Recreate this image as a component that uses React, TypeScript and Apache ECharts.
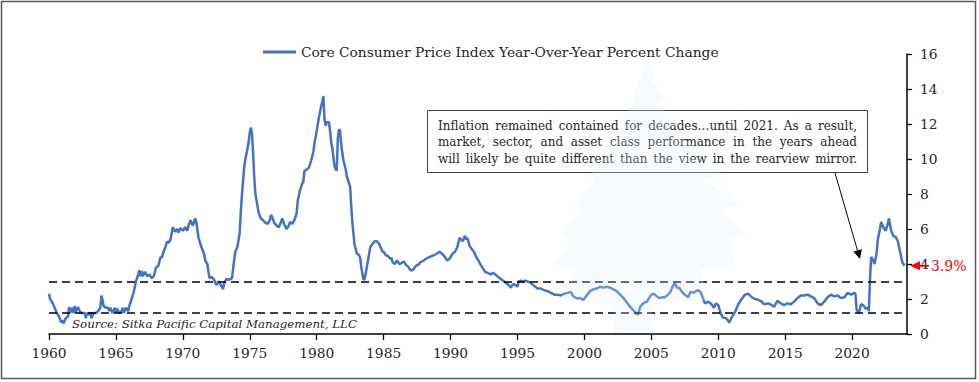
import React, { useEffect, useRef } from "react";
import * as echarts from "echarts";

// ---------- data ----------
const dates = [
  1960.0, 1960.08, 1960.25, 1960.42, 1960.58, 1960.75, 1960.92, 1961.0, 1961.08, 1961.25, 1961.42, 1961.5, 1961.58, 1961.75, 1961.83, 1961.92,
  1962.0, 1962.17, 1962.33, 1962.5, 1962.67, 1962.75, 1962.83, 1963.0, 1963.08, 1963.17, 1963.33, 1963.5, 1963.67, 1963.83, 1963.92,
  1964.0, 1964.08, 1964.25, 1964.42, 1964.5, 1964.58, 1964.75, 1964.92, 1965.0, 1965.08, 1965.25, 1965.42, 1965.5, 1965.58, 1965.75, 1965.92,
  1966.0, 1966.17, 1966.33, 1966.5, 1966.67, 1966.75, 1966.83, 1966.92, 1967.0, 1967.17, 1967.33, 1967.5, 1967.67, 1967.83,
  1968.0, 1968.17, 1968.33, 1968.42, 1968.58, 1968.67, 1968.83, 1968.92, 1969.08, 1969.25, 1969.42, 1969.58, 1969.67, 1969.83,
  1970.0, 1970.17, 1970.33, 1970.42, 1970.58, 1970.67, 1970.75, 1970.92, 1971.0, 1971.08, 1971.17, 1971.33, 1971.42, 1971.58, 1971.67, 1971.83, 1971.92,
  1972.0, 1972.17, 1972.33, 1972.5, 1972.67, 1972.75, 1972.92, 1973.0, 1973.08, 1973.25, 1973.42, 1973.58, 1973.67, 1973.83, 1973.92,
  1974.08, 1974.25, 1974.33, 1974.42, 1974.58, 1974.67, 1974.83, 1974.92, 1975.0, 1975.08, 1975.17, 1975.25, 1975.33, 1975.42, 1975.58, 1975.67, 1975.83,
  1976.0, 1976.17, 1976.33, 1976.5, 1976.58, 1976.67, 1976.83, 1977.0, 1977.17, 1977.33, 1977.42, 1977.58, 1977.75, 1977.92,
  1978.0, 1978.17, 1978.33, 1978.5, 1978.58, 1978.75, 1978.92, 1979.0, 1979.08, 1979.25, 1979.42, 1979.58, 1979.75, 1979.83,
  1980.0, 1980.08, 1980.17, 1980.33, 1980.42, 1980.5, 1980.58, 1980.67, 1980.75, 1980.92, 1981.0, 1981.08, 1981.17, 1981.33, 1981.42, 1981.5, 1981.58, 1981.67, 1981.75, 1981.83,
  1982.0, 1982.17, 1982.25, 1982.42, 1982.5, 1982.58, 1982.67, 1982.75, 1982.83, 1983.0, 1983.17, 1983.25, 1983.33, 1983.5, 1983.58, 1983.67, 1983.83,
  1984.0, 1984.17, 1984.33, 1984.5, 1984.67, 1984.75, 1984.92, 1985.0, 1985.17, 1985.33, 1985.5, 1985.58, 1985.67, 1985.83,
  1986.0, 1986.17, 1986.33, 1986.5, 1986.67, 1986.83, 1987.0, 1987.17, 1987.42, 1987.58, 1987.75, 1988.0, 1988.17, 1988.42, 1988.58, 1988.75,
  1989.0, 1989.17, 1989.42, 1989.58, 1989.75, 1989.92, 1990.0, 1990.17, 1990.33, 1990.5, 1990.58, 1990.67, 1990.75, 1990.92,
  1991.0, 1991.08, 1991.17, 1991.25, 1991.42, 1991.58, 1991.75, 1991.92, 1992.08, 1992.25, 1992.42, 1992.58, 1992.75,
  1993.0, 1993.17, 1993.42, 1993.58, 1993.83, 1994.0, 1994.17, 1994.33, 1994.5, 1994.67, 1994.83, 1995.0, 1995.08, 1995.25, 1995.42, 1995.58, 1995.75, 1995.92,
  1996.08, 1996.25, 1996.5, 1996.75, 1997.0, 1997.25, 1997.5, 1997.75, 1998.0, 1998.25, 1998.5, 1998.75, 1999.0, 1999.17, 1999.42, 1999.67, 1999.92,
  2000.17, 2000.42, 2000.67, 2000.92, 2001.17, 2001.42, 2001.67, 2001.92, 2002.17, 2002.42, 2002.67, 2002.92, 2003.17, 2003.42, 2003.67, 2003.83,
  2004.0, 2004.17, 2004.33, 2004.5, 2004.67, 2004.83, 2005.0, 2005.17, 2005.42, 2005.58, 2005.83, 2006.0, 2006.25, 2006.42, 2006.58, 2006.75, 2006.92,
  2007.08, 2007.25, 2007.42, 2007.58, 2007.75, 2007.92, 2008.17, 2008.33, 2008.5, 2008.67, 2008.83, 2009.0, 2009.25, 2009.5, 2009.67, 2009.83,
  2010.0, 2010.17, 2010.33, 2010.58, 2010.75, 2010.83, 2011.0, 2011.25, 2011.5, 2011.75, 2012.0, 2012.25, 2012.5, 2012.75,
  2013.0, 2013.25, 2013.42, 2013.75, 2014.0, 2014.17, 2014.42, 2014.67, 2014.92, 2015.17, 2015.42, 2015.67, 2015.92,
  2016.17, 2016.42, 2016.67, 2016.92, 2017.17, 2017.42, 2017.67, 2017.92, 2018.17, 2018.42, 2018.67, 2018.92, 2019.17, 2019.42, 2019.67, 2019.92,
  2020.17, 2020.25, 2020.33, 2020.5, 2020.67, 2020.83, 2021.0, 2021.17, 2021.25, 2021.33, 2021.42, 2021.58, 2021.67, 2021.83, 2021.92,
  2022.08, 2022.17, 2022.33, 2022.5, 2022.67, 2022.75, 2022.92, 2023.08, 2023.25, 2023.42, 2023.58, 2023.75, 2023.92,
];

const cpi = [
  2.3, 2.0, 1.8, 1.5, 1.2, 1.0, 0.65, 0.8, 0.6, 0.9, 1.0, 1.55, 1.2, 1.5, 1.2, 1.6,
  1.25, 1.55, 1.25, 1.2, 1.2, 0.9, 1.2, 1.1, 1.25, 0.9, 1.2, 1.2, 1.3, 1.5, 2.2,
  1.95, 1.6, 1.5, 1.5, 1.3, 1.5, 1.2, 1.5, 1.25, 1.45, 1.2, 1.3, 1.5, 1.2, 1.5, 1.3,
  1.6, 2.0, 2.4, 3.0, 3.4, 3.65, 3.3, 3.6, 3.3, 3.55, 3.3, 3.4, 3.2, 3.3,
  3.8, 3.9, 4.4, 4.35, 4.75, 4.9, 5.3, 5.2, 5.4, 6.1, 5.85, 6.0, 5.8, 6.05,
  5.9, 6.1, 5.9, 6.2, 6.5, 6.3, 6.2, 6.6, 6.45, 6.0, 5.5, 5.1, 4.9, 4.6, 4.2, 4.0, 3.5,
  3.2, 3.25, 3.1, 2.8, 3.0, 2.9, 2.7, 2.55, 2.9, 3.15, 3.1, 3.15, 3.2, 4.2, 4.7,
  5.0, 5.8, 7.0, 8.0, 9.5, 10.0, 10.6, 11.0, 11.5, 11.8, 11.4, 10.3, 9.0, 8.0, 7.3, 6.9, 6.6,
  6.5, 6.35, 6.3, 6.5, 6.8, 6.7, 6.35, 6.2, 6.1, 6.4, 6.6, 6.25, 6.0, 6.2,
  6.4, 6.3, 6.5, 6.9, 7.6, 8.2, 8.6, 8.7, 9.3, 9.4, 9.5, 9.9, 10.4, 10.9,
  11.6, 12.0, 12.4, 13.0, 13.3, 13.6, 12.3, 11.9, 12.1, 12.1, 11.6, 11.0, 10.6, 9.6, 9.4, 9.35, 11.2, 11.7, 11.6, 10.8,
  9.9, 9.4, 9.0, 8.6, 8.4, 7.3, 6.3, 5.7, 5.1, 4.6, 4.5, 4.35, 3.8, 3.1, 3.15, 3.5, 4.2,
  4.95, 5.15, 5.3, 5.3, 5.15, 5.0, 4.7, 4.7, 4.5, 4.45, 4.3, 4.35, 4.1, 4.0,
  4.2, 4.0, 4.05, 4.15, 3.95, 3.85, 3.65, 3.65, 3.9, 3.95, 4.1, 4.2, 4.3, 4.4, 4.45, 4.5,
  4.6, 4.7, 4.55, 4.4, 4.2, 4.3, 4.4, 4.6, 4.7, 4.95, 5.2, 5.5, 5.4, 5.3,
  5.5, 5.6, 5.4, 5.5, 5.05, 4.85, 4.7, 4.4, 4.2, 3.95, 3.75, 3.55, 3.5,
  3.4, 3.5, 3.35, 3.25, 3.1, 3.0, 2.9, 2.8, 2.65, 2.85, 2.8, 2.7, 3.0, 3.05, 3.0, 3.05, 3.0, 2.95,
  2.85, 2.75, 2.6, 2.6, 2.5, 2.45, 2.35, 2.25, 2.25, 2.2, 2.3, 2.35, 2.4, 2.15, 2.05, 2.05, 1.95,
  2.2, 2.45, 2.55, 2.6, 2.7, 2.65, 2.7, 2.65, 2.55, 2.45, 2.25, 2.05, 1.8, 1.55, 1.35, 1.2,
  1.1, 1.55, 1.7, 1.8, 1.85, 2.05, 2.25, 2.3, 2.15, 2.05, 2.1, 2.1, 2.25, 2.4, 2.7, 2.9, 2.65,
  2.65, 2.45, 2.3, 2.2, 2.1, 2.4, 2.35, 2.45, 2.5, 2.4, 2.1, 1.75, 1.85, 1.7, 1.5, 1.75,
  1.65, 1.2, 0.95, 0.9, 0.75, 0.65, 0.95, 1.25, 1.7, 2.0, 2.25, 2.3, 2.1, 2.0,
  1.95, 1.85, 1.7, 1.75, 1.65, 1.55, 1.9, 1.75, 1.65, 1.75, 1.7, 1.85, 2.05,
  2.2, 2.2, 2.25, 2.15, 2.05, 1.75, 1.65, 1.85, 2.1, 2.25, 2.15, 2.2, 2.05, 2.1, 2.35, 2.25,
  2.35, 2.3, 1.4, 1.2, 1.7, 1.65, 1.45, 1.5, 1.3, 3.0, 4.4, 4.2, 4.0, 4.6, 5.4,
  6.0, 6.4, 6.1, 5.9, 6.3, 6.6, 5.9, 5.6, 5.55, 5.3, 4.7, 4.1, 3.9,
];

const seriesName = "Core Consumer Price Index Year-Over-Year Percent Change";
const referenceLevels = [3.0, 1.2];
const noteLines = [
  "Inflation remained contained for decades\u2026until 2021.  As a result,",
  "market, sector, and asset class performance in the years ahead",
  "will likely be quite different than the view in the rearview mirror.",
];
const sourceText = "Source: Sitka Pacific Capital Management, LLC";
const latestLabel = "3.9%";

const SERIF = "'DejaVu Serif', serif";
const NOTE_FAMILY = "'DejaVu Serif Condensed', 'DejaVu Serif', serif";
const NOTE_SIZE = 13.3;
const BLUE = "#4472C4";
const TEXT = "#262626";

// place the words of a line so that it fills the given width (justified text)
function justifyLine(line: string, left: number, width: number, y: number, z: number) {
  const words = line.split(" ").filter((w) => w.length > 0);
  const canvas = document.createElement("canvas");
  const ctx = canvas.getContext("2d")!;
  ctx.font = `${NOTE_SIZE}px ${NOTE_FAMILY}`;
  const widths = words.map((w) => ctx.measureText(w).width);
  const total = widths.reduce((a, b) => a + b, 0);
  const gap = words.length > 1 ? (width - total) / (words.length - 1) : 0;
  let x = left;
  return words.map((w, i) => {
    const el = {
      type: "text",
      silent: true,
      z,
      x,
      y,
      style: { text: w, fontFamily: NOTE_FAMILY, fontSize: NOTE_SIZE, fill: TEXT, verticalAlign: "middle", textAlign: "left" },
    };
    x += widths[i] + gap;
    return el;
  });
}

export default function App() {
  const ref = useRef<HTMLDivElement>(null);

  useEffect(() => {
    if (!ref.current) return;
    const chart = echarts.init(ref.current, undefined, { renderer: "svg" });
    const points = dates.map((d, i) => [d, cpi[i]]);

    chart.setOption({
      animation: false,
      backgroundColor: "#ffffff",
      grid: { left: 49, right: 72, top: 54, bottom: 48, containLabel: false },
      legend: {
        show: true,
        data: [seriesName],
        left: 263,
        top: 45,
        padding: 0,
        itemWidth: 33,
        itemHeight: 3,
        icon: "rect",
        textStyle: { fontFamily: SERIF, fontSize: 13.8, color: TEXT },
      },
      xAxis: {
        type: "value",
        min: 1960,
        max: 2024.1,
        interval: 5,
        splitLine: { show: false },
        axisLine: { show: true, lineStyle: { color: "#000", width: 1.5 } },
        axisTick: { show: true, length: 6, lineStyle: { color: "#000", width: 1.3 } },
        axisLabel: {
          showMaxLabel: false,
          margin: 12,
          fontFamily: SERIF,
          fontSize: 13.8,
          color: TEXT,
          formatter: (v: number) => (v % 5 === 0 && v <= 2020 ? String(v) : ""),
        },
      },
      yAxis: {
        type: "value",
        position: "right",
        min: 0,
        max: 16,
        interval: 2,
        splitLine: { show: false },
        axisLine: { show: true, lineStyle: { color: "#000", width: 1.5 } },
        axisTick: { show: true, length: 5, lineStyle: { color: "#000", width: 1.3 } },
        axisLabel: { margin: 13, fontFamily: SERIF, fontSize: 13.8, color: TEXT },
      },
      series: [
        {
          name: seriesName,
          type: "line",
          data: points,
          showSymbol: false,
          symbol: "none",
          smooth: false,
          lineStyle: { color: BLUE, width: 2.5 },
          itemStyle: { color: BLUE },
          z: 3,
          markLine: {
            silent: true,
            symbol: "none",
            label: { show: false },
            lineStyle: { color: "#000", type: [8, 5], width: 1.7 },
            data: referenceLevels.map((v) => ({ yAxis: v })),
          },
        },
      ],
    });

    const lastPt = chart.convertToPixel({ gridIndex: 0 }, [dates[dates.length - 1], cpi[cpi.length - 1]]) as number[];
    const axisRight = chart.convertToPixel({ xAxisIndex: 0 }, 2024.1) as number;
    const ly = lastPt[1];
    const tipX = axisRight + 3;

    const tree: number[][] = [
      [648, 58], [655, 75], [652, 80], [665, 100], [658, 104], [680, 125], [668, 128], [700, 150], [685, 153],
      [725, 175], [705, 180], [740, 205], [720, 210], [745, 235], [728, 240], [735, 265], [700, 270], [710, 300],
      [652, 305], [652, 333], [614, 333], [614, 305], [560, 300], [575, 270], [555, 265], [570, 240], [560, 235],
      [580, 210], [575, 205], [595, 180], [590, 175], [610, 150], [605, 148], [625, 125], [620, 122], [635, 100],
      [632, 97], [642, 75],
    ];

    const noteEls = noteLines.flatMap((t, i) => justifyLine(t, 438, 419, 125 + i * 16.5, 51));

    chart.setOption({
      graphic: [
        {
          type: "rect",
          silent: true,
          z: 1,
          shape: { x: 1.5, y: 1.5, width: 974, height: 377 },
          style: { fill: "none", stroke: "#595959", lineWidth: 1.5 },
        },
        {
          type: "rect",
          silent: true,
          z: 50,
          shape: { x: 427.5, y: 110.5, width: 440, height: 62 },
          style: { fill: "#ffffff", stroke: "#404040", lineWidth: 1 },
        },
        ...noteEls,
        {
          type: "line",
          silent: true,
          z: 51,
          shape: { x1: 835, y1: 173, x2: 857.5, y2: 250.5 },
          style: { stroke: "#000", lineWidth: 1 },
        },
        {
          type: "polygon",
          silent: true,
          z: 51,
          shape: { points: [[860, 259], [861.8, 249.2], [853.4, 251.6]] },
          style: { fill: "#000" },
        },
        {
          type: "text",
          silent: true,
          z: 51,
          x: 72,
          y: 324,
          style: { text: sourceText, fontFamily: SERIF, fontStyle: "italic", fontSize: 11.8, fill: TEXT, verticalAlign: "middle" },
        },
        {
          type: "polygon",
          silent: true,
          z: 51,
          shape: { points: [[tipX, ly], [tipX + 10, ly - 4.5], [tipX + 10, ly + 4.5]] },
          style: { fill: "#FF0000" },
        },
        {
          type: "line",
          silent: true,
          z: 51,
          shape: { x1: tipX + 9, y1: ly, x2: tipX + 19, y2: ly },
          style: { stroke: "#FF0000", lineWidth: 1.5 },
        },
        {
          type: "text",
          silent: true,
          z: 51,
          x: tipX + 21,
          y: ly,
          style: { text: latestLabel, fontFamily: SERIF, fontSize: 14, fill: "#FF0000", verticalAlign: "middle" },
        },
        {
          type: "polygon",
          silent: true,
          z: 100,
          shape: { points: tree },
          style: { fill: "rgba(228,239,252,0.25)" },
        },
      ],
    });

    return () => chart.dispose();
  }, []);

  return (
    <div
      ref={ref}
      style={{ position: "absolute", left: 0, top: 0, width: 979, height: 382, background: "#ffffff" }}
    />
  );
}
